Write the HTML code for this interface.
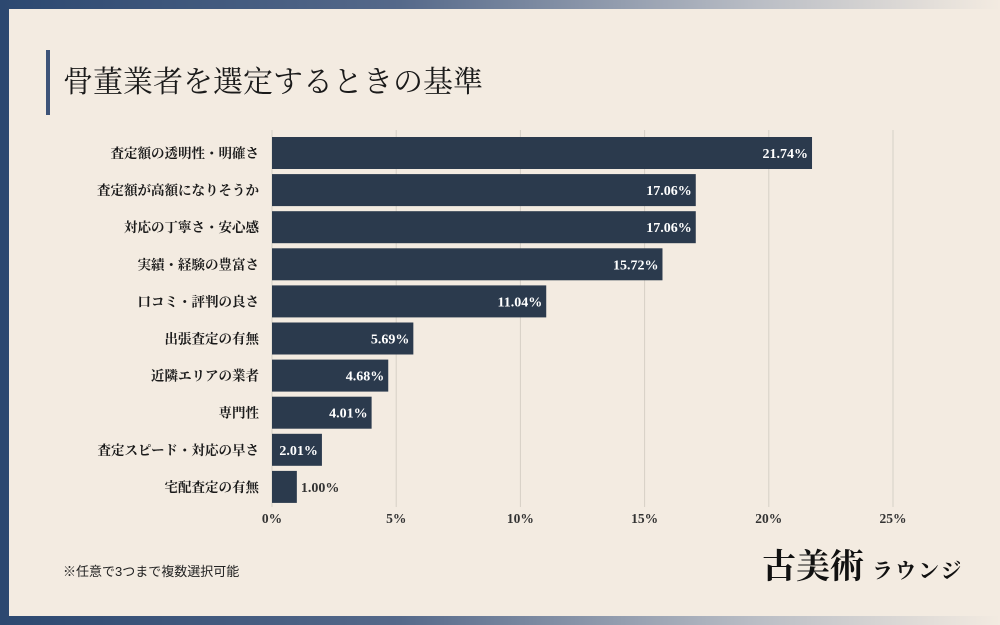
<!DOCTYPE html>
<html><head><meta charset="utf-8"><style>
html,body{margin:0;padding:0}
body{width:1000px;height:625px;position:relative;overflow:hidden;background:linear-gradient(90deg,#2c4870 0%,#55698a 40%,#b8bcc4 75%,#f3ebe1 100%)}
#card{position:absolute;left:9px;top:9px;width:991px;height:607px;background:#f3ebe1}
svg{position:absolute;left:0;top:0}
</style></head><body>
<div id="card"></div>
<svg width="1000" height="625" id="chart">
<rect x="46" y="50" width="4" height="65" fill="#3d5378"/>
<text x="63" y="92" font-family="'Liberation Serif','Noto Serif CJK SC',serif" font-size="30" fill="#1a1a1a">骨董業者を選定するときの基準</text>
<g id="grid"></g><g id="bars"></g><g id="ticks"></g>
<text x="63" y="576" font-family="'Liberation Sans','Noto Sans CJK JP',sans-serif" font-size="13" fill="#222">※任意で3つまで複数選択可能</text>
<text x="762" y="578" font-family="'Liberation Serif','Noto Serif CJK JP',serif" font-size="34" font-weight="bold" fill="#111">古美術</text>
<text x="872" y="578" font-family="'Liberation Serif','Noto Serif CJK JP',serif" font-size="21" font-weight="bold" fill="#111" letter-spacing="2">ラウンジ</text>
</svg>
<script>
const categories=["査定額の透明性・明確さ","査定額が高額になりそうか","対応の丁寧さ・安心感","実績・経験の豊富さ","口コミ・評判の良さ","出張査定の有無","近隣エリアの業者","専門性","査定スピード・対応の早さ","宅配査定の有無"];
const values=[21.74,17.06,17.06,15.72,11.04,5.69,4.68,4.01,2.01,1.00];
const tickValues=[0,5,10,15,20,25];
const tickLabels=["0%","5%","10%","15%","20%","25%"];
const NS="http://www.w3.org/2000/svg";
const x0=272,x1=893,xMax=25,yTop=137,step=37.1,bh=32;
const xs=v=>x0+(x1-x0)*v/xMax;
const ys=i=>yTop+i*step;
function mk(t,a,p){const e=document.createElementNS(NS,t);for(const k in a)e.setAttribute(k,a[k]);p.appendChild(e);return e;}
const F="'Liberation Serif','Noto Serif CJK JP',serif";
const grid=document.getElementById('grid'),bars=document.getElementById('bars'),ticks=document.getElementById('ticks');
tickValues.forEach((t,i)=>{
 const l=mk('line',{x1:xs(t),x2:xs(t),y1:130,y2:507,stroke:'#d6d0c6','stroke-width':1},grid);
 
 
 const tx=mk('text',{x:xs(t),y:523,'text-anchor':'middle','font-family':F,'font-size':13.5,'font-weight':'bold',fill:'#333'},ticks);
 tx.textContent=tickLabels[i];
 
 
});
categories.forEach((c,i)=>{
 const y=ys(i),v=values[i];
 const r=mk('rect',{x:x0,y:y,width:xs(v)-x0,height:bh,fill:'#2b3a4d'},bars);
 
 
 const lb=mk('text',{x:259,y:y+21,'text-anchor':'end','font-family':F,'font-size':13.5,'font-weight':'bold',fill:'#1a1a1a'},bars);
 lb.textContent=c;
 
 
 const inside=xs(v)-x0>40;
 const vl=mk('text',{x:inside?xs(v)-4:xs(v)+4,y:y+21,'text-anchor':inside?'end':'start','font-family':F,'font-size':14,'font-weight':'bold',fill:inside?'#fff':'#333'},bars);
 vl.textContent=v.toFixed(2)+'%';
 
 
});
</script>
</body></html>
